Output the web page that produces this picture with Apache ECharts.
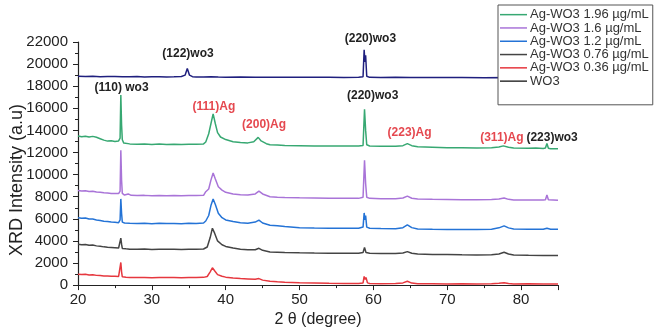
<!DOCTYPE html>
<html>
<head>
<meta charset="utf-8">
<title>XRD</title>
<script src="https://cdn.jsdelivr.net/npm/echarts@6/dist/echarts.min.js"></script>
<style>
  html, body { margin: 0; padding: 0; background: #fff; }
  #chart { width: 660px; height: 333px; }
</style>
</head>
<body>
<div id="chart"></div>
<script>
// 图例名称
const seriesNames = [
  'Ag-WO3 1.96 µg/mL',
  'Ag-WO3 1.6 µg/mL',
  'Ag-WO3 1.2 µg/mL',
  'Ag-WO3 0.76 µg/mL',
  'Ag-WO3 0.36 µg/mL',
  'WO3'
]
const xTicks = [20, 30, 40, 50, 60, 70, 80]
const yTicks = [0, 2000, 4000, 6000, 8000, 10000, 12000, 14000, 16000, 18000, 20000, 22000]

// [2θ, intensity]
const ag196 = [[20,13500],[20.5,13420],[21,13480],[21.5,13400],[22,13460],[22.5,13380],[23,13250],[23.5,13120],[24,13030],[24.5,13060],[25,13000],[25.5,13050],[25.7,13300],[25.8,17200],[25.9,14500],[26.0,13150],[26.2,12850],[27,12780],[28,12740],[29,12770],[30,12730],[31,12760],[32,12720],[33,12750],[34,12730],[35,12750],[36,12740],[37,12780],[37.3,12950],[37.7,13700],[38.0,14600],[38.3,15500],[38.6,14600],[38.9,13800],[39.3,13400],[40,13170],[41,12980],[42,12900],[43,12870],[43.8,12980],[44.4,13370],[44.8,13050],[45.5,12800],[46,12700],[47,12680],[48,12630],[50,12610],[52,12590],[54,12580],[56,12590],[58,12580],[58.6,12640],[58.8,15900],[58.95,14000],[59.1,12700],[59.5,12590],[61,12560],[63,12560],[64,12620],[64.6,12800],[65.2,12620],[66,12520],[68,12480],[70,12430],[72,12420],[74,12400],[76,12430],[77,12500],[77.6,12600],[78.3,12480],[79,12400],[81,12380],[82,12400],[83,12360],[83.3,12400],[83.5,12820],[83.7,12380],[84,12340],[85,12330]]
const ag16 = [[20,8570],[20.5,8520],[21,8540],[21.5,8480],[22,8500],[22.5,8430],[23,8400],[23.5,8350],[24,8330],[24.5,8300],[25,8290],[25.5,8280],[25.7,8500],[25.8,12200],[25.9,9500],[26.0,8300],[26.3,8150],[26.8,8250],[27.2,8120],[28,8100],[29,8120],[30,8080],[31,8110],[32,8090],[33,8100],[34,8080],[35,8110],[36,8100],[37,8120],[37.3,8450],[37.7,8700],[38.0,9500],[38.3,10150],[38.6,9600],[39,8900],[39.5,8600],[40,8400],[41,8250],[42,8180],[43,8150],[44,8250],[44.5,8500],[45,8250],[46,8000],[47,7950],[48,7930],[50,7900],[52,7880],[54,7860],[56,7850],[58,7850],[58.6,7950],[58.8,11300],[58.95,9200],[59.1,7950],[59.5,7850],[61,7820],[63,7820],[64,7880],[64.6,8050],[65.2,7860],[66,7800],[68,7760],[70,7740],[72,7720],[74,7720],[76,7740],[77,7790],[77.7,7880],[78.3,7760],[79,7700],[81,7700],[83,7700],[83.3,7720],[83.5,8150],[83.7,7720],[85,7690]]
const ag12 = [[20,6100],[20.5,6050],[21,6080],[21.5,5980],[22,5980],[22.5,5900],[23,5850],[23.5,5780],[24,5750],[24.5,5700],[25,5680],[25.5,5650],[25.7,5900],[25.8,7800],[25.9,6500],[26.0,5700],[26.3,5620],[27,5600],[28,5580],[29,5600],[30,5560],[31,5590],[32,5570],[33,5580],[34,5560],[35,5590],[36,5580],[37,5620],[37.3,5800],[37.7,6300],[38.0,7200],[38.3,7800],[38.6,7300],[39,6500],[39.5,6100],[40,5900],[41,5750],[42,5650],[43,5600],[44,5700],[44.5,5880],[45,5620],[46,5420],[47,5380],[48,5300],[50,5200],[52,5160],[54,5150],[56,5140],[58,5140],[58.6,5250],[58.75,6530],[58.85,5900],[58.95,6300],[59.1,5250],[59.5,5150],[61,5120],[63,5100],[64,5200],[64.6,5450],[65.2,5200],[66,5080],[68,5050],[70,5030],[72,5040],[74,5030],[76,5060],[77,5180],[77.7,5360],[78.3,5180],[79,5080],[81,5060],[83,5060],[83.5,5150],[84,5050],[85,5050]]
const ag076 = [[20,3700],[20.5,3650],[21,3680],[21.5,3600],[22,3620],[22.5,3550],[23,3520],[23.5,3460],[24,3420],[24.5,3400],[25,3380],[25.5,3360],[25.7,3500],[25.8,4250],[25.9,3700],[26.0,3320],[26.5,3280],[27,3250],[28,3240],[29,3260],[30,3230],[31,3250],[32,3240],[33,3250],[34,3230],[35,3240],[36,3250],[37,3270],[37.5,3450],[37.9,4300],[38.2,5150],[38.5,4700],[38.9,4000],[39.5,3650],[40,3500],[41,3350],[42,3250],[43,3200],[44,3200],[44.5,3330],[45,3150],[46,3000],[47,2980],[48,2950],[50,2920],[52,2900],[54,2890],[56,2880],[58,2890],[58.6,2950],[58.8,3410],[59.0,2950],[59.5,2880],[61,2860],[63,2860],[64,2900],[64.6,3030],[65.2,2880],[66,2820],[68,2780],[70,2760],[72,2740],[74,2730],[76,2740],[77,2820],[77.7,2970],[78.3,2820],[79,2720],[81,2700],[83,2690],[85,2680]]
const ag036 = [[20,990],[20.5,950],[21,980],[21.5,920],[22,930],[22.5,880],[23,860],[23.5,830],[24,820],[24.5,800],[25,790],[25.5,780],[25.7,900],[25.8,2050],[25.9,1200],[26.0,750],[26.5,700],[27,690],[28,680],[29,690],[30,670],[31,690],[32,680],[33,690],[34,670],[35,690],[36,680],[37,700],[37.5,780],[37.9,1200],[38.2,1570],[38.5,1300],[38.9,950],[39.5,800],[40,720],[41,650],[42,600],[43,560],[44,520],[44.5,590],[45,450],[46,350],[47,300],[48,260],[50,220],[52,190],[54,160],[56,150],[58,140],[58.6,200],[58.75,790],[58.9,500],[59.0,700],[59.2,200],[59.5,150],[61,130],[63,140],[64,200],[64.6,350],[65.2,180],[66,130],[68,120],[70,110],[72,130],[74,110],[76,130],[77,170],[77.7,220],[78.3,150],[79,110],[81,120],[83,110],[85,100]]
const wo3 = [[20,18900],[21,18880],[22,18900],[23,18860],[24,18880],[25,18870],[26,18860],[27,18850],[28,18870],[29,18840],[30,18860],[31,18850],[32,18840],[33,18850],[34,18880],[34.5,19000],[34.8,19600],[35.1,19000],[35.5,18860],[36,18840],[37,18830],[38,18850],[39,18830],[40,18820],[42,18830],[44,18810],[46,18820],[48,18800],[50,18810],[52,18800],[54,18800],[56,18790],[58,18800],[58.6,18850],[58.75,21300],[58.85,20200],[58.95,20800],[59.1,18900],[59.5,18800],[61,18790],[63,18800],[65,18780],[67,18790],[70,18780],[72,18790],[75,18770],[78,18780],[80,18770],[82,18780],[85,18760]]

// 峰标注 [2θ, intensity, text, red?]
const notes = [
  [34.9, 20950, '(122)wo3', false],
  [59.6, 22290, '(220)wo3', false],
  [25.9, 17830, '(110) wo3', false],
  [38.4, 16170, '(111)Ag', true],
  [45.2, 14510, '(200)Ag', true],
  [59.9, 17160, '(220)wo3', false],
  [64.9, 13750, '(223)Ag', true],
  [77.4, 13370, '(311)Ag', true],
  [84.2, 13370, '(223)wo3', false]
]

const seriesData = [ag196, ag16, ag12, ag076, ag036, wo3]
const colors = ['#37a872', '#a974d8', '#2473d6', '#444444', '#e6373e', '#1f1f7e']

const chart = echarts.init(document.getElementById('chart'), null, { renderer: 'canvas' })

const option = {
  animation: false,
  grid: { left: 78, right: 102, top: 42, bottom: 39 },
  legend: {
    orient: 'vertical',
    left: 498,
    top: 5,
    padding: [3, 4, 17, 2],
    itemGap: 0,
    itemWidth: 27,
    itemHeight: 1.5,
    icon: 'rect',
    backgroundColor: '#fff',
    borderColor: '#555',
    borderWidth: 1,
    textStyle: { fontFamily: 'Liberation Sans, Arial', fontSize: 13, lineHeight: 13.3, color: '#333', padding: [0, 0, 0, -2] },
    data: seriesNames.map((n, i) => ({
      name: n,
      itemStyle: { color: i === 5 ? '#333' : colors[i] }
    }))
  },
  xAxis: {
    type: 'value',
    min: 20,
    max: 85,
    interval: 10,
    name: '2 θ (degree)',
    nameLocation: 'middle',
    nameGap: 20,
    nameTextStyle: { fontFamily: 'Liberation Sans, Arial', fontSize: 16, color: '#222' },
    axisLine: { lineStyle: { color: '#222', width: 1.2 } },
    axisTick: { length: 5, lineStyle: { color: '#222' } },
    minorTick: { show: true, splitNumber: 2, length: 3, lineStyle: { color: '#222' } },
    splitLine: { show: false },
    axisLabel: {
      margin: 7,
      fontFamily: 'Liberation Sans, Arial',
      fontSize: 15,
      color: '#222',
      formatter: v => (xTicks.indexOf(v) >= 0 ? String(v) : '')
    }
  },
  yAxis: {
    type: 'value',
    min: 0,
    max: 22000,
    interval: 2000,
    axisLine: { show: true, lineStyle: { color: '#222', width: 1.2 } },
    axisTick: { show: true, length: 5, lineStyle: { color: '#222' } },
    minorTick: { show: true, splitNumber: 2, length: 3, lineStyle: { color: '#222' } },
    splitLine: { show: false },
    axisLabel: {
      margin: 10,
      fontFamily: 'Liberation Sans, Arial',
      fontSize: 15,
      color: '#222',
      formatter: v => (yTicks.indexOf(v) >= 0 ? String(v) : '')
    }
  },
  series: seriesData.map((d, i) => ({
    name: seriesNames[i],
    type: 'line',
    data: d,
    symbol: 'none',
    smooth: false,
    color: colors[i],
    lineStyle: { color: colors[i], width: 1.5 },
    z: 2
  }))
}
chart.setOption(option)

// 标注和纵轴标题用 graphic，位置由数据坐标换算
const graphics = notes.map(n => {
  const p = chart.convertToPixel({ gridIndex: 0 }, [n[0], n[1]])
  return {
    type: 'text',
    x: p[0],
    y: p[1],
    z: 10,
    style: {
      text: n[2],
      fill: n[3] ? '#e5484f' : '#222',
      font: 'bold 12px "Liberation Sans", Arial',
      textAlign: 'center',
      textVerticalAlign: 'middle'
    }
  }
})
graphics.push({
  type: 'text',
  x: 17,
  y: 180,
  rotation: Math.PI / 2,
  style: {
    text: 'XRD Intensity (a.u)',
    fill: '#222',
    font: '18px "Liberation Sans", Arial',
    textAlign: 'center',
    textVerticalAlign: 'middle'
  }
})
chart.setOption({ graphic: graphics })
</script>
</body>
</html>
